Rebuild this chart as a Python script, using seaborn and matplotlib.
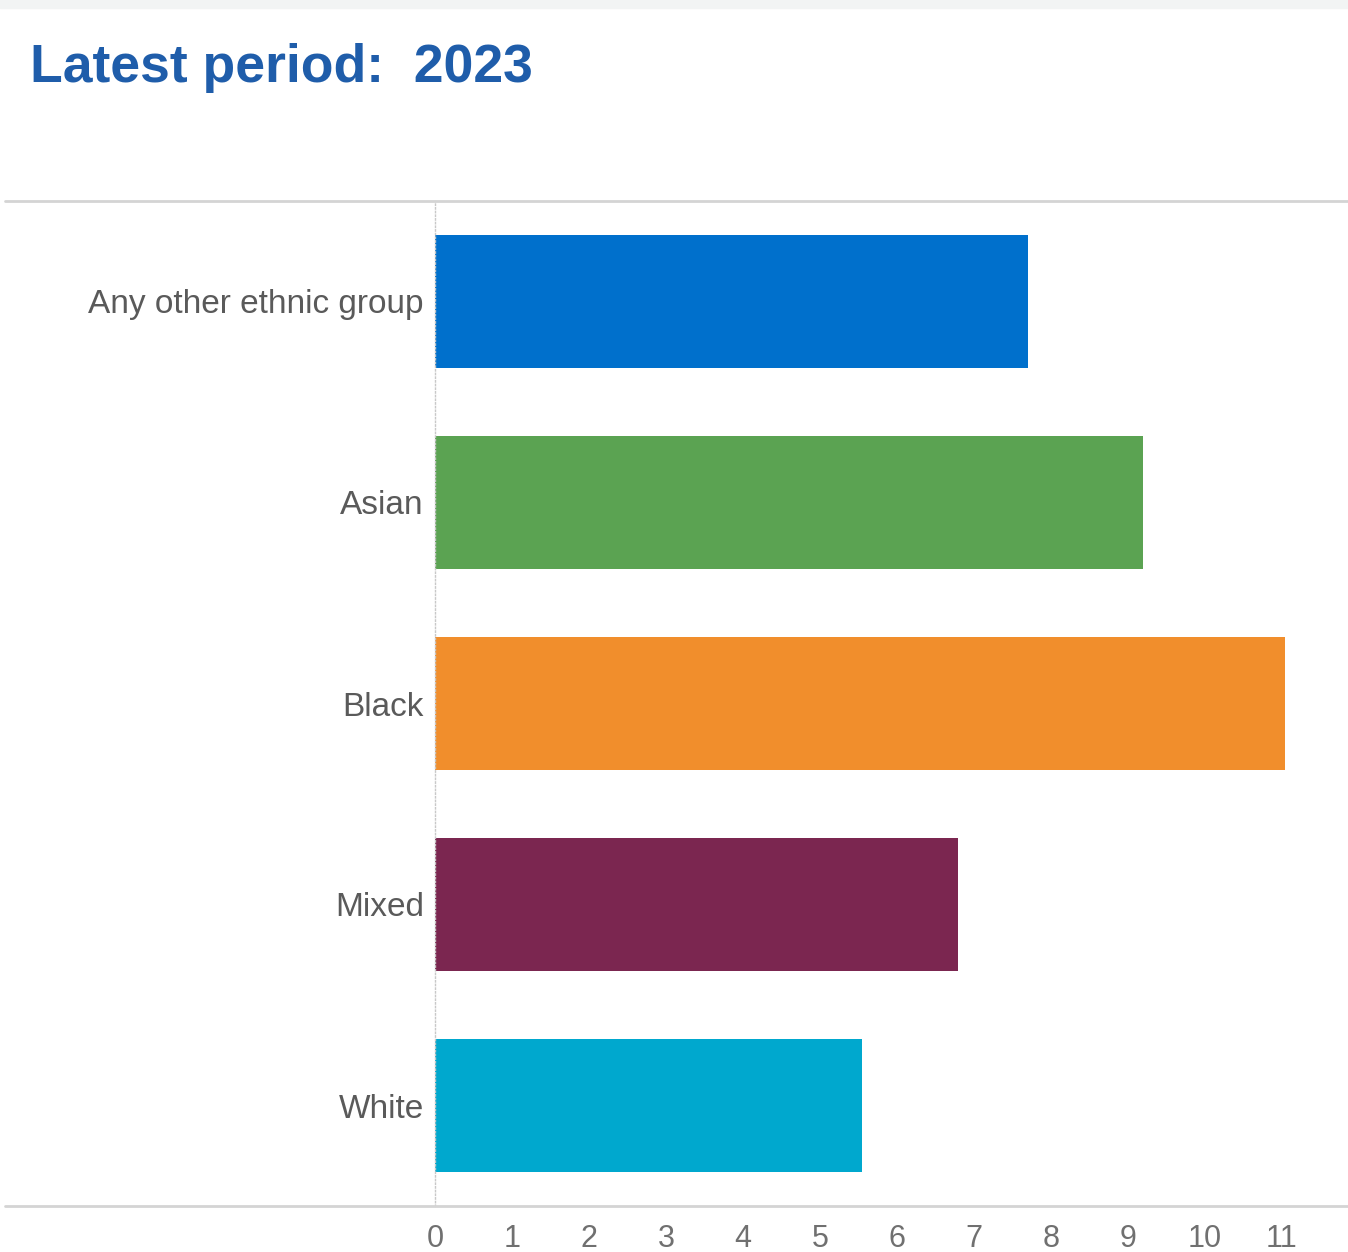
import pandas as pd
import seaborn as sns
import matplotlib.pyplot as plt
from matplotlib.lines import Line2D

groups = ["Any other ethnic group", "Asian", "Black", "Mixed", "White"]
values = [7.7, 9.2, 11.05, 6.8, 5.55]
bar_colors = ["#0070CC", "#5BA352", "#F18E2C", "#7B2650", "#00A8CE"]
x_ticks = list(range(12))

df = pd.DataFrame({"group": groups, "value": values})

sns.set_style("white")
plt.rcParams["font.family"] = ["Liberation Sans", "DejaVu Sans"]

fig = plt.figure(figsize=(13.48, 12.52), dpi=100)
ax = fig.add_axes([435 / 1348, 1 - 1206 / 1252, 885 / 1348, 1005 / 1252])

sns.barplot(data=df, x="value", y="group", hue="group", palette=bar_colors,
            order=groups, orient="h", width=0.66, legend=False, ax=ax,
            saturation=1, linewidth=0)

ax.set_xlim(0, 11.5)
ax.set_ylim(4.5, -0.5)
ax.set_xlabel("")
ax.set_ylabel("")

ax.set_xticks(x_ticks)
ax.set_xticklabels([str(t) for t in x_ticks],
                   family=["Liberation Sans Narrow", "Liberation Sans"],
                   fontsize=22, color="#707070")
ax.tick_params(axis="x", length=0, pad=13)
ax.tick_params(axis="y", length=0, pad=8, labelsize=24, labelcolor="#5a5a5a")

for s in ["top", "right", "bottom"]:
    ax.spines[s].set_visible(False)
ax.spines["left"].set_color("#c8c8c8")
ax.spines["left"].set_linestyle(":")
ax.spines["left"].set_linewidth(1)

# full-width rules above and below the plot
for y in [1 - 201 / 1252, 1 - 1206 / 1252]:
    fig.add_artist(Line2D([5 / 1348, 1], [y, y], color="#d4d4d4", lw=2,
                          transform=fig.transFigure))

# light strip at the very top
fig.add_artist(plt.Rectangle((0, 1 - 8 / 1252), 1, 8 / 1252, color="#f2f4f4",
                             transform=fig.transFigure, zorder=0))

fig.text(30 / 1348, 1 - 82 / 1252, "Latest period:  2023", fontsize=38.5,
         fontweight="bold", color="#1F5DAA", ha="left", va="baseline")

fig.savefig("out.png", dpi=100, facecolor="white")
